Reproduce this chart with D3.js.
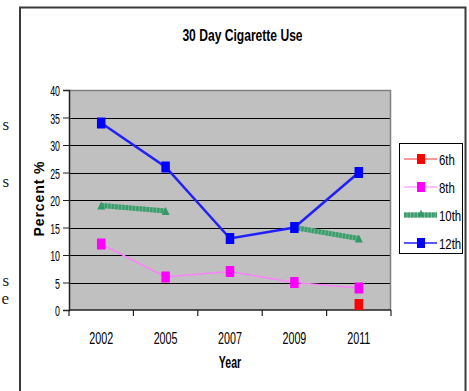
<!DOCTYPE html>
<html>
<head>
<meta charset="utf-8">
<script src="https://cdn.jsdelivr.net/npm/d3@7"></script>
<style>
  html, body { margin: 0; padding: 0; background: #fff; }
  svg { display: block; }
  text { font-family: "Liberation Sans", Arial, sans-serif; fill: #000; }
</style>
</head>
<body>
<svg id="chart" width="469" height="391"></svg>
<script>
// Survey years (categories) and percent values per grade
const years = ["2002", "2005", "2007", "2009", "2011"];
const grade6 = [null, null, null, null, 1];
const grade8 = [12, 6, 7, 5, 4];
const grade10 = [19, 18, null, 15, 13];
const grade12 = [34, 26, 13, 15, 25];
const yTicks = [0, 5, 10, 15, 20, 25, 30, 35, 40];
const seriesNames = ["6th", "8th", "10th", "12th"];
const titleText = "30 Day Cigarette Use";
const xTitle = "Year";
const yTitle = "Percent %";
// Word endings from the surrounding page text, cut by the left edge
const marginLetters = ["s", "s", "s", "e"];

const series = [
  { name: seriesNames[0], values: grade6, color: "#ff0000", line: "#ff3030", width: 1.5, marker: "square" },
  { name: seriesNames[1], values: grade8, color: "#ff00ff", line: "#ff80ff", width: 1.5, marker: "square" },
  { name: seriesNames[2], values: grade10, color: "#339966", line: "#3f9c6c", width: 5, marker: "triangle", dashed: true },
  { name: seriesNames[3], values: grade12, color: "#0000ff", line: "#2020ff", width: 2.5, marker: "square" }
];

const svg = d3.select("#chart");

// Squeeze a text element horizontally to a fraction of its natural width
function squeeze(sel, factor) {
  sel.each(function () {
    const len = this.getComputedTextLength();
    d3.select(this).attr("textLength", len * factor).attr("lengthAdjust", "spacingAndGlyphs");
  });
}

// Page text fragments at the left edge
const letterY = [130, 187, 286, 304];
svg.selectAll("text.margin").data(marginLetters).join("text")
  .attr("class", "margin")
  .attr("x", 9).attr("y", (d, i) => letterY[i])
  .attr("text-anchor", "end")
  .style("font-family", "'Liberation Serif', 'Times New Roman', serif")
  .style("font-size", "17px")
  .style("fill", "#222")
  .text(d => d);

// Outer chart frame
svg.append("path")
  .attr("d", "M20,395 V7.5 H465.5 V395")
  .attr("fill", "none").attr("stroke", "#3a3a3a").attr("stroke-width", 2);

// Plot area
const plot = { left: 69, right: 391, top: 90, bottom: 310 };
const x = d3.scaleBand().domain(years).range([plot.left, plot.right]);
const y = d3.scaleLinear().domain([0, 40]).range([plot.bottom, plot.top]);
const cx = d => x(d) + x.bandwidth() / 2;

svg.append("rect")
  .attr("x", plot.left).attr("y", plot.top)
  .attr("width", plot.right - plot.left).attr("height", plot.bottom - plot.top)
  .attr("fill", "#c0c0c0");

// Horizontal gridlines
svg.append("g").selectAll("line").data(yTicks.filter(t => t > 0 && t < 40)).join("line")
  .attr("x1", plot.left).attr("x2", plot.right)
  .attr("y1", d => Math.round(y(d)) + 0.5).attr("y2", d => Math.round(y(d)) + 0.5)
  .attr("stroke", "#000").attr("stroke-width", 1);

// Top and right plot border
svg.append("path")
  .attr("d", `M${plot.left},${plot.top + 0.5} H${plot.right - 0.5} V${plot.bottom}`)
  .attr("fill", "none").attr("stroke", "#808080").attr("stroke-width", 1.5);

// Y axis
const yAxis = d3.axisLeft(y).tickValues(yTicks).tickSize(6).tickPadding(3);
const gy = svg.append("g").attr("transform", `translate(${plot.left},0)`).call(yAxis);
gy.select(".domain").attr("stroke", "#222").attr("stroke-width", 1.5);
gy.selectAll(".tick line").attr("stroke", "#222");
gy.selectAll(".tick text").style("font-size", "15.5px").attr("dy", "0.36em").call(squeeze, 0.57);

// X axis: ticks fall on category boundaries
const gx = svg.append("g").attr("transform", `translate(0,${plot.bottom})`);
gx.append("line").attr("x1", plot.left).attr("x2", plot.right)
  .attr("stroke", "#222").attr("stroke-width", 1.5);
const bounds = years.map(d => x(d)).concat([plot.right]);
gx.selectAll("line.tk").data(bounds).join("line")
  .attr("class", "tk")
  .attr("x1", d => d).attr("x2", d => d).attr("y1", 0).attr("y2", 6)
  .attr("stroke", "#222").attr("stroke-width", 1.2);
gx.selectAll("text").data(years).join("text")
  .attr("x", d => cx(d)).attr("y", 33.5)
  .attr("text-anchor", "middle")
  .style("font-size", "16.5px")
  .text(d => d)
  .call(squeeze, 0.65);

// Titles
svg.append("text").attr("x", 242.5).attr("y", 41).attr("text-anchor", "middle")
  .style("font-size", "16px").style("font-weight", "bold")
  .text(titleText).call(squeeze, 0.755);
svg.append("text").attr("x", 230).attr("y", 368).attr("text-anchor", "middle")
  .style("font-size", "16px").style("font-weight", "bold")
  .text(xTitle).call(squeeze, 0.66);
svg.append("text")
  .attr("transform", `translate(43.5,198) rotate(-90)`)
  .attr("text-anchor", "middle")
  .style("font-size", "14px").style("font-weight", "bold")
  .style("letter-spacing", "2px")
  .attr("textLength", 77).attr("lengthAdjust", "spacing")
  .text(yTitle);

// Series lines
const line = d3.line()
  .defined(d => d.v != null)
  .x(d => cx(d.year))
  .y(d => y(d.v));

function markerPath(type, w, h) {
  if (type === "triangle") return `M0,${-h / 2} L${w / 2},${h / 2} L${-w / 2},${h / 2} Z`;
  return `M${-w / 2},${-h / 2} h${w} v${h} h${-w} Z`;
}

const lines = svg.append("g");
series.forEach(s => {
  const pts = years.map((yr, i) => ({ year: yr, v: s.values[i] }));
  if (s.dashed) {
    lines.append("path").datum(pts).attr("d", line)
      .attr("fill", "none").attr("stroke", "#6fb891").attr("stroke-width", s.width);
    lines.append("path").datum(pts).attr("d", line)
      .attr("fill", "none").attr("stroke", s.line).attr("stroke-width", s.width)
      .attr("stroke-dasharray", "2.5 1");
  } else {
    lines.append("path").datum(pts).attr("d", line)
      .attr("fill", "none").attr("stroke", s.line).attr("stroke-width", s.width);
  }
});

// Series markers
series.forEach(s => {
  const pts = years.map((yr, i) => ({ year: yr, v: s.values[i] })).filter(d => d.v != null);
  const w = s.marker === "triangle" ? 8 : 8.5;
  const h = s.marker === "triangle" ? 8 : 11;
  svg.append("g").selectAll("path").data(pts).join("path")
    .attr("transform", d => `translate(${cx(d.year)},${y(d.v)})`)
    .attr("d", markerPath(s.marker, w, h))
    .attr("fill", s.color);
});

// Legend
const legend = svg.append("g");
legend.append("rect").attr("x", 399.5).attr("y", 143.5).attr("width", 63).attr("height", 110)
  .attr("fill", "#fff").attr("stroke", "#000").attr("stroke-width", 1);
const legendY = [159, 187, 215, 243];
series.forEach((s, i) => {
  const ly = legendY[i];
  if (s.dashed) {
    legend.append("line").attr("x1", 404).attr("x2", 437).attr("y1", ly).attr("y2", ly)
      .attr("stroke", "#6fb891").attr("stroke-width", s.width);
    legend.append("line").attr("x1", 404).attr("x2", 437).attr("y1", ly).attr("y2", ly)
      .attr("stroke", s.line).attr("stroke-width", s.width).attr("stroke-dasharray", "2.5 1");
  } else {
    legend.append("line").attr("x1", 404).attr("x2", 437).attr("y1", ly).attr("y2", ly)
      .attr("stroke", s.line).attr("stroke-width", s.width === 2.5 ? 1.5 : 1.2);
  }
  const w = s.marker === "triangle" ? 6 : 8;
  const h = s.marker === "triangle" ? 7 : 10;
  legend.append("path").attr("transform", `translate(421,${s.marker === "triangle" ? ly - 2 : ly})`)
    .attr("d", markerPath(s.marker, w, h)).attr("fill", s.color);
  legend.append("text").attr("x", 439).attr("y", ly + 5.5)
    .style("font-size", "15px").text(s.name).call(squeeze, 0.76);
});
</script>
</body>
</html>
